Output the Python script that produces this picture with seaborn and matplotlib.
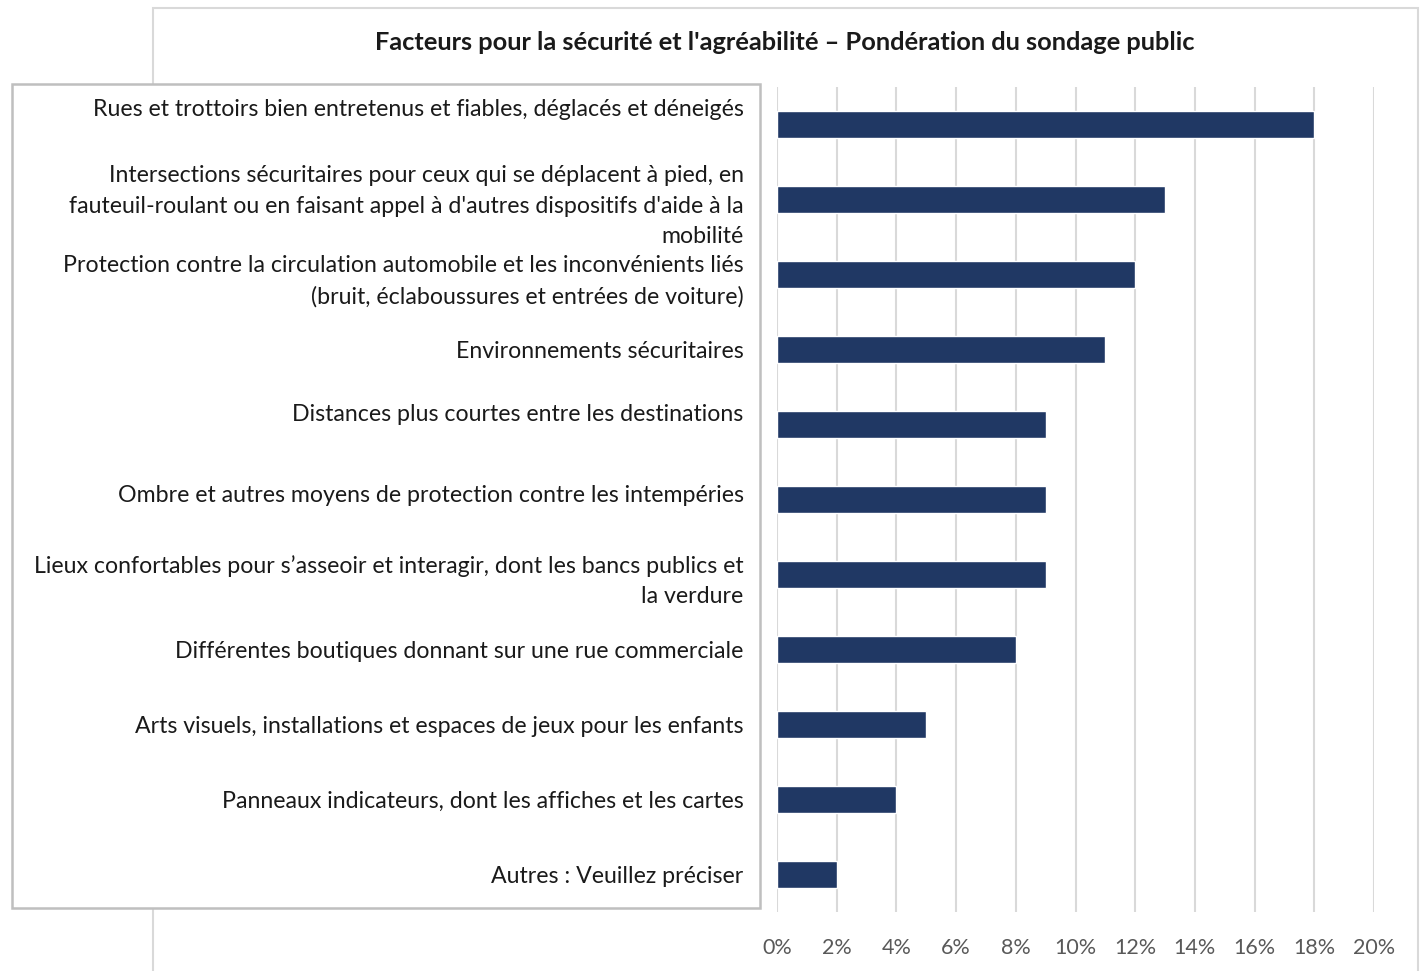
import pandas as pd
import seaborn as sns
import matplotlib.pyplot as plt
import matplotlib.transforms as mtransforms
from matplotlib.patches import Rectangle
from matplotlib.ticker import PercentFormatter

# Survey factors (top to bottom) and their weights
factors = [
    "Rues et trottoirs bien entretenus et fiables, déglacés et déneigés",
    "Intersections sécuritaires pour ceux qui se déplacent à pied, en\n"
    "fauteuil-roulant ou en faisant appel à d'autres dispositifs d'aide à la\n"
    "mobilité",
    "Protection contre la circulation automobile et les inconvénients liés\n"
    "(bruit, éclaboussures et entrées de voiture)",
    "Environnements sécuritaires",
    "Distances plus courtes entre les destinations",
    "Ombre et autres moyens de protection contre les intempéries",
    "Lieux confortables pour s’asseoir et interagir, dont les bancs publics et\n"
    "la verdure",
    "Différentes boutiques donnant sur une rue commerciale",
    "Arts visuels, installations et espaces de jeux pour les enfants",
    "Panneaux indicateurs, dont les affiches et les cartes",
    "Autres : Veuillez préciser",
]
weights = [0.18, 0.13, 0.12, 0.11, 0.09, 0.09, 0.09, 0.08, 0.05, 0.04, 0.02]
x_ticks = [0.00, 0.02, 0.04, 0.06, 0.08, 0.10, 0.12, 0.14, 0.16, 0.18, 0.20]

title = "Facteurs pour la sécurité et l'agréabilité – Pondération du sondage public"

sns.set_theme(style="white")
plt.rcParams['font.family'] = ['Lato', 'DejaVu Sans']

W, H = 1420, 971
fig = plt.figure(figsize=(W / 100, H / 100), dpi=100)

# outer chart frame and the label box (in pixel terms, converted to figure fraction)
fig.patches.append(Rectangle((153 / W, 0 - 0.02), (1418 - 153) / W, (H - 8) / H + 0.02,
                             transform=fig.transFigure, fill=False,
                             edgecolor='#d9d9d9', linewidth=1.5, zorder=0))
fig.patches.append(Rectangle((12 / W, 1 - 908 / H), (760 - 12) / W, (908 - 84) / H,
                             transform=fig.transFigure, facecolor='white',
                             edgecolor='#bfbfbf', linewidth=1.8, zorder=1))

ax = fig.add_axes([777 / W, 1 - 912 / H, (1374 - 777) / W, (912 - 87) / H])
ax.set_zorder(2)
ax.patch.set_alpha(0)

df = pd.DataFrame({'facteur': factors, 'poids': weights})
sns.barplot(data=df, x='poids', y='facteur', orient='h', color='#203864',
            width=0.35, saturation=1, ax=ax)

ax.set_xlim(0, 0.20)
ax.set_xticks(x_ticks)
ax.xaxis.set_major_formatter(PercentFormatter(1.0, decimals=0))
ax.grid(axis='x', color='#d9d9d9', linewidth=1.5)
ax.set_axisbelow(True)
for s in ax.spines.values():
    s.set_visible(False)

ax.set_xlabel('')
ax.set_ylabel('')
ax.tick_params(axis='x', length=0, pad=19, labelsize=15.5, labelcolor='#595959')
ax.tick_params(axis='y', length=0, pad=24, labelsize=16.7, labelcolor='#1a1a1a')
for lbl in ax.get_yticklabels():
    lbl.set_linespacing(1.54)

# the text box in the original sits a bit higher for a couple of the labels
nudges = {0: 17, 4: 12, 5: 6}
for i, lbl in enumerate(ax.get_yticklabels()):
    if i in nudges:
        off = mtransforms.ScaledTranslation(0, nudges[i] / 100, fig.dpi_scale_trans)
        lbl.set_transform(lbl.get_transform() + off)

fig.text(785 / W, 1 - 42 / H, title, ha='center', va='center',
         fontsize=18.3, fontweight='bold', color='#1a1a1a')

fig.savefig('out.png', dpi=100)
